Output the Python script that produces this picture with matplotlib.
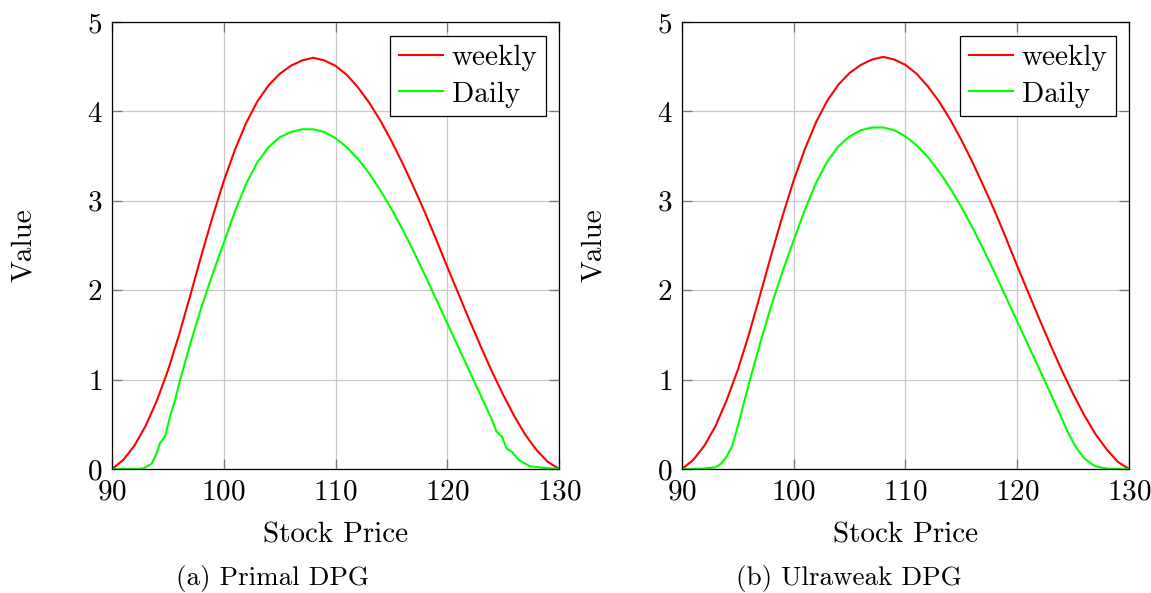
import numpy as np
import matplotlib.pyplot as plt

plt.rcParams['font.family'] = ['cmr10', 'DejaVu Serif']
plt.rcParams['axes.formatter.use_mathtext'] = True

# stock price grid for the weekly curves
price = [90, 91, 92, 93, 94, 95, 96, 97, 98, 99, 100, 101, 102, 103, 104, 105,
         106, 107, 108, 109, 110, 111, 112, 113, 114, 115, 116, 117, 118, 119,
         120, 121, 122, 123, 124, 125, 126, 127, 128, 129, 130]

# (a) primal DPG
primal_weekly = [0.0, 0.10, 0.26, 0.48, 0.76, 1.10, 1.50, 1.94, 2.39, 2.82, 3.22,
                 3.57, 3.87, 4.11, 4.29, 4.42, 4.51, 4.57, 4.60, 4.57, 4.51, 4.41,
                 4.27, 4.10, 3.90, 3.67, 3.42, 3.15, 2.87, 2.57, 2.26, 1.96, 1.66,
                 1.37, 1.09, 0.83, 0.59, 0.38, 0.21, 0.08, 0.0]
primal_daily_x = [90, 91, 92, 92.8, 93.55, 94, 94.3, 94.74, 95.19, 95.64, 96.1, 97,
                  98, 99, 100, 101, 102, 103, 104, 105, 106, 107, 108, 109, 110,
                  111, 112, 113, 114, 115, 116, 117, 118, 119, 120, 121, 122, 123,
                  124, 124.4, 124.9, 125.3, 125.8, 126.4, 127.4, 128.9, 130]
primal_daily = [0.0, 0.0, 0.0, 0.005, 0.06, 0.18, 0.29, 0.36, 0.585, 0.77, 1.0,
                1.40, 1.81, 2.18, 2.53, 2.88, 3.19, 3.43, 3.60, 3.71, 3.77, 3.80,
                3.80, 3.77, 3.70, 3.60, 3.47, 3.31, 3.12, 2.91, 2.68, 2.43, 2.17,
                1.90, 1.63, 1.36, 1.09, 0.82, 0.55, 0.42, 0.36, 0.23, 0.19, 0.10,
                0.03, 0.01, 0.0]

# (b) ultraweak DPG
ultraweak_weekly = [0.0, 0.10, 0.26, 0.48, 0.77, 1.11, 1.51, 1.95, 2.40, 2.83, 3.23,
                    3.58, 3.88, 4.12, 4.30, 4.43, 4.52, 4.58, 4.61, 4.58, 4.52, 4.42,
                    4.28, 4.11, 3.91, 3.68, 3.43, 3.16, 2.88, 2.58, 2.27, 1.97, 1.67,
                    1.38, 1.10, 0.84, 0.60, 0.39, 0.22, 0.08, 0.0]
ultraweak_daily_x = [90, 91, 92, 93, 93.5, 94, 94.5, 95, 95.5, 96, 97, 98, 99, 100,
                     101, 102, 103, 104, 105, 106, 107, 108, 109, 110, 111, 112,
                     113, 114, 115, 116, 117, 118, 119, 120, 121, 122, 123, 124,
                     124.5, 125, 125.5, 126, 126.5, 127, 128, 129, 130]
ultraweak_daily = [0.0, 0.0, 0.005, 0.02, 0.06, 0.14, 0.26, 0.48, 0.72, 0.96, 1.41,
                   1.83, 2.21, 2.56, 2.90, 3.20, 3.44, 3.61, 3.72, 3.79, 3.82, 3.82,
                   3.79, 3.72, 3.62, 3.49, 3.33, 3.14, 2.93, 2.70, 2.45, 2.19, 1.92,
                   1.65, 1.38, 1.11, 0.84, 0.56, 0.42, 0.30, 0.20, 0.12, 0.07, 0.03,
                   0.005, 0.0, 0.0]

panels = [
    ('(a) Primal DPG', price, primal_weekly, primal_daily_x, primal_daily),
    ('(b) Ulraweak DPG', price, ultraweak_weekly, ultraweak_daily_x, ultraweak_daily),
]

fig = plt.figure(figsize=(11.51, 5.93), dpi=100)
lefts = [0.0973, 0.5925]
caption_x = [0.237, 0.7376]   # captions sit under the whole subfigure
width, height = 0.3884, 0.7538

for left, cx, (caption, xw, yw, xd, yd) in zip(lefts, caption_x, panels):
    ax = fig.add_axes([left, 0.2091, width, height])
    ax.plot(xw, yw, color='#ff0000', lw=1.5, label='weekly')
    ax.plot(xd, yd, color='#00ff00', lw=1.5, label='Daily')
    ax.set_xlim(90, 130)
    ax.set_ylim(0, 5)
    ax.set_xticks([90, 100, 110, 120, 130])
    ax.set_yticks([0, 1, 2, 3, 4, 5])
    ax.grid(True, color='#c8c8c8', lw=0.9)
    ax.set_axisbelow(True)
    ax.tick_params(direction='in', length=7, width=0.9, color='#777777',
                   top=True, right=True, labelsize=21, pad=7)
    for sp in ax.spines.values():
        sp.set_linewidth(0.9)
    ax.set_xlabel('Stock Price', fontsize=21, labelpad=12)
    ax.set_ylabel('Value', fontsize=21, labelpad=36)
    leg = ax.legend(loc='upper right', bbox_to_anchor=(0.971, 0.969),
                    borderaxespad=0, fontsize=21, fancybox=False,
                    edgecolor='black', framealpha=1, handlelength=1.5,
                    handletextpad=0.3, labelspacing=0.35, borderpad=0.3)
    leg.get_frame().set_linewidth(0.9)
    fig.text(cx, 0.025, caption, ha='center', va='center', fontsize=19.5)

fig.savefig('out.png', dpi=100)
